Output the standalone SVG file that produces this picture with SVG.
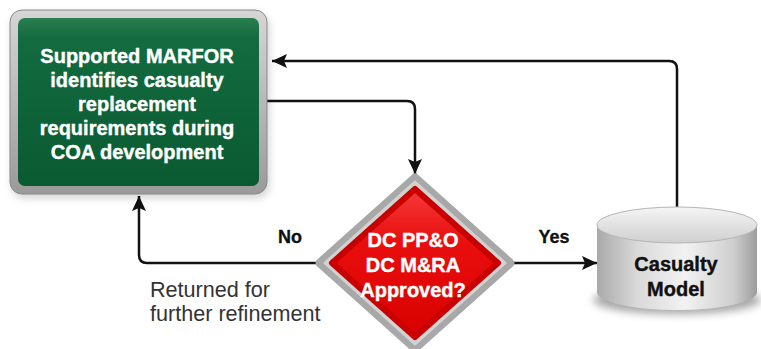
<svg xmlns="http://www.w3.org/2000/svg" width="761" height="349" viewBox="0 0 761 349">
  <defs>
    <style>
      .lbl { font-family: "Liberation Sans", Arial, sans-serif; font-weight: bold; text-anchor: middle; }
      .white { fill: #ffffff; stroke: #ffffff; stroke-width: 0.4; font-size: 20px; }
      .dark { fill: #111111; stroke: #111111; stroke-width: 0.4; font-size: 20px; }
      .edge-lbl { fill: #111111; stroke: #111111; stroke-width: 0.3; font-size: 18px; }
      .note { font-family: "Liberation Sans", Arial, sans-serif; font-size: 21.6px; fill: #333333; }
      .conn { fill: none; stroke: #111111; stroke-width: 2.5; stroke-linejoin: round; marker-end: url(#arrow); }
    </style>
    <marker id="arrow" markerUnits="userSpaceOnUse" markerWidth="18" markerHeight="16" refX="15" refY="7" orient="auto">
      <path d="M0,0 L15,7 L0,14 L3,7 Z" fill="#111111"/>
    </marker>
    <linearGradient id="frameGrad" x1="0" y1="0" x2="0" y2="1">
      <stop offset="0" stop-color="#d6d6d6"/>
      <stop offset="0.5" stop-color="#b8b8b8"/>
      <stop offset="1" stop-color="#9a9a9a"/>
    </linearGradient>
    <linearGradient id="greenGrad" x1="0" y1="0" x2="0" y2="1">
      <stop offset="0" stop-color="#2a7e50"/>
      <stop offset="0.12" stop-color="#136b3f"/>
      <stop offset="1" stop-color="#0a5a31"/>
    </linearGradient>
    <linearGradient id="redGrad" x1="0" y1="0" x2="0" y2="1">
      <stop offset="0" stop-color="#f53a3a"/>
      <stop offset="0.35" stop-color="#ea0f0f"/>
      <stop offset="1" stop-color="#d80000"/>
    </linearGradient>
    <linearGradient id="cylBody" x1="0" y1="0" x2="1" y2="0">
      <stop offset="0" stop-color="#a9a9a9"/>
      <stop offset="0.25" stop-color="#d9d9d9"/>
      <stop offset="0.55" stop-color="#f2f2f2"/>
      <stop offset="0.85" stop-color="#cfcfcf"/>
      <stop offset="1" stop-color="#9c9c9c"/>
    </linearGradient>
    <linearGradient id="cylTop" x1="0" y1="0" x2="0" y2="1">
      <stop offset="0" stop-color="#f5f5f5"/>
      <stop offset="1" stop-color="#cfcfcf"/>
    </linearGradient>
    <filter id="soft" x="-20%" y="-50%" width="140%" height="200%">
      <feGaussianBlur stdDeviation="4"/>
    </filter>
  </defs>

  <rect width="761" height="349" fill="#ffffff"/>

  <!-- Connectors -->
  <g id="connectors">
    <path class="conn" d="M677,223 V69 Q677,61 669,61 H272"/>
    <path class="conn" d="M259,101 H407 Q415,101 415,109 V174"/>
    <path class="conn" d="M320,263 H147 Q139,263 139,255 V196"/>
    <path class="conn" d="M512,263 H597"/>
  </g>

  <!-- Process box -->
  <g id="node-marfor">
    <rect x="12" y="14" width="257" height="184" rx="12" fill="#000000" opacity="0.18" filter="url(#soft)"/>
    <rect x="10" y="10" width="257" height="184" rx="12" fill="url(#frameGrad)" stroke="#8a8a8a" stroke-width="1"/>
    <rect x="18" y="18" width="241" height="168" rx="7" fill="url(#greenGrad)"/>
    <text class="lbl white" x="137" y="63">Supported MARFOR</text>
    <text class="lbl white" x="137" y="87">identifies casualty</text>
    <text class="lbl white" x="137" y="111">replacement</text>
    <text class="lbl white" x="137" y="135">requirements during</text>
    <text class="lbl white" x="137" y="159">COA development</text>
  </g>

  <!-- Decision diamond -->
  <g id="node-decision">
    <polygon points="415,178 510,263 415,348 320,263" fill="#a8a8a8" stroke="#a8a8a8" stroke-width="9" stroke-linejoin="round"/>
    <polygon points="415,182 505,263 415,344 325,263" fill="#d2d2d2" stroke="#d2d2d2" stroke-width="3" stroke-linejoin="round"/>
    <polygon points="415,189 498,263 415,337 332,263" fill="url(#redGrad)" stroke="#c80000" stroke-width="6" stroke-linejoin="round"/>
    <text class="lbl white" x="413" y="247">DC PP&amp;O</text>
    <text class="lbl white" x="413" y="272">DC M&amp;RA</text>
    <text class="lbl white" x="413" y="297">Approved?</text>
  </g>

  <!-- Data store -->
  <g id="node-model">
    <ellipse cx="677" cy="300" rx="84" ry="14" fill="#000000" opacity="0.35" filter="url(#soft)"/>
    <path d="M597,225 V292 A80,18 0 0 0 757,292 V225 Z" fill="url(#cylBody)"/>
    <ellipse cx="677" cy="225" rx="80" ry="18" fill="url(#cylTop)" stroke="#b5b5b5" stroke-width="1"/>
    <text class="lbl dark" x="676" y="271">Casualty</text>
    <text class="lbl dark" x="676" y="296">Model</text>
  </g>

  <!-- Edge labels -->
  <g id="edge-labels">
    <text class="lbl edge-lbl" x="290" y="243">No</text>
    <text class="lbl edge-lbl" x="554" y="243">Yes</text>
    <text class="note" x="150" y="297">Returned for</text>
    <text class="note" x="150" y="321">further refinement</text>
  </g>
</svg>
